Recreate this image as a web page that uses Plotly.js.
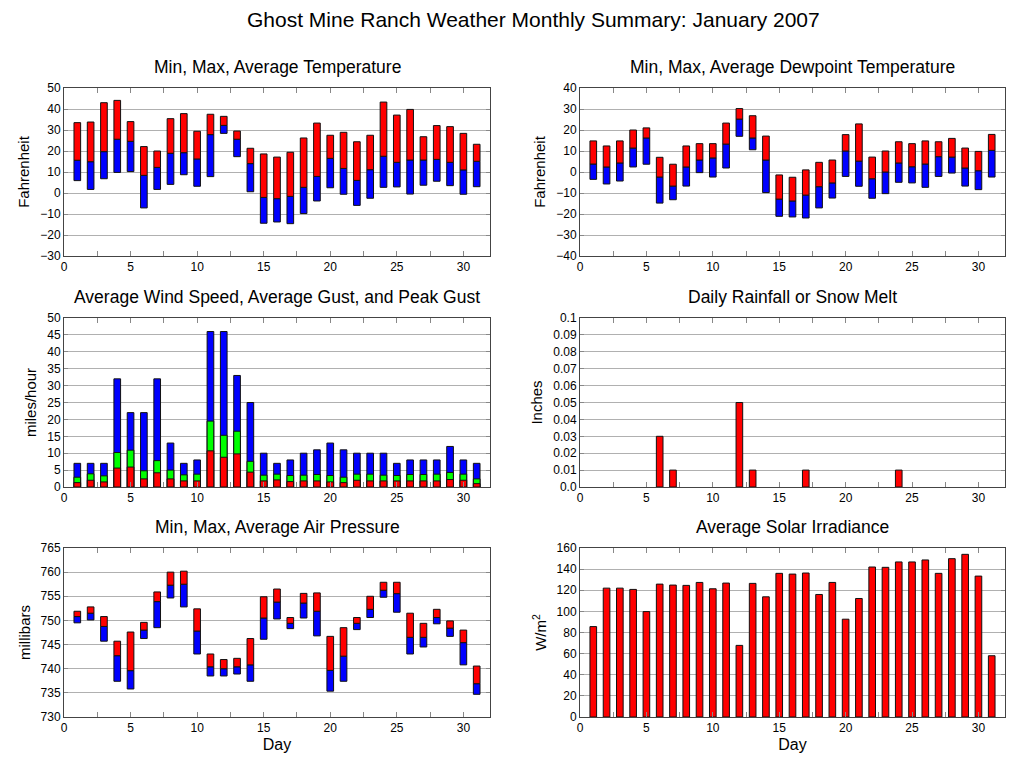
<!DOCTYPE html>
<html>
<head>
<meta charset="utf-8">
<script src="https://cdn.plot.ly/plotly-3.0.1.min.js"></script>
<style>html,body{margin:0;padding:0;background:#fff;}#chart{width:1027px;height:772px;}</style>
</head>
<body>
<div id="chart"></div>
<script>
const days = [1,2,3,4,5,6,7,8,9,10,11,12,13,14,15,16,17,18,19,20,21,22,23,24,25,26,27,28,29,30,31];

const tempMax = [33.5,33.8,43.0,44.1,34.0,22.1,20.0,35.4,37.8,29.4,37.5,36.5,29.5,21.3,18.6,17.1,19.4,26.2,33.3,27.5,28.9,24.4,27.5,43.3,37.1,39.8,26.8,32.1,31.6,28.4,23.2];
const tempAvg = [15.6,14.9,19.7,25.6,24.6,8.4,12.2,18.9,19.2,16.2,27.8,32.2,25.6,14.0,-2.1,-2.7,-1.6,2.7,7.9,16.5,11.7,6.0,11.1,17.5,14.6,15.7,15.7,16.0,14.6,11.0,15.1];
const tempMin = [5.9,1.7,6.8,9.8,10.2,-7.1,1.7,4.1,8.7,3.2,7.8,28.4,17.3,0.6,-14.4,-13.8,-14.6,-9.8,-3.8,2.5,-0.6,-5.9,-2.5,2.7,2.9,-0.5,3.7,5.6,3.5,-0.6,3.0];

const dewMax = [14.8,12.4,14.8,20.0,21.0,7.0,3.7,12.4,13.5,13.5,23.3,30.2,26.8,17.1,-1.4,-2.5,1.0,4.6,5.7,17.8,22.9,7.1,10.0,14.4,13.5,14.8,14.4,16.0,11.4,9.8,17.9];
const dewAvg = [3.8,2.4,4.3,11.4,16.2,-2.4,-6.7,2.4,5.7,6.7,13.3,25.2,16.2,5.7,-12.9,-13.8,-11.0,-7.0,-5.2,10.0,5.2,-3.2,0.0,4.3,2.5,3.8,7.3,7.1,1.9,0.6,10.3];
const dewMin = [-3.5,-5.7,-4.3,2.4,3.7,-14.8,-13.2,-6.7,-0.3,-2.4,1.9,17.0,10.6,-9.8,-21.1,-21.4,-21.9,-17.1,-12.4,-2.1,-6.8,-12.5,-10.3,-4.9,-5.2,-7.3,-2.1,-0.5,-6.7,-8.4,-2.4];

const windAvg = [1.3,2.0,1.5,5.6,5.9,2.4,4.2,2.4,1.8,1.8,10.7,8.8,9.8,4.4,1.8,2.1,1.6,1.8,1.8,1.5,1.3,2.0,1.8,1.8,1.8,1.8,1.8,1.8,2.2,2.0,1.0];
const gustAvg = [2.9,3.9,3.3,10.2,10.9,4.8,7.8,5.0,3.6,3.8,19.5,15.3,16.5,7.6,3.5,3.8,3.4,3.5,3.7,3.4,2.9,3.8,3.8,3.5,3.4,3.7,3.7,3.8,4.3,3.8,2.4];
const gustPeak = [7,7,7,32,22,22,32,13,7,8,46,46,33,25,10,7,8,10,11,13,11,10,10,10,7,8,8,8,12,8,7];

const rain = [0,0,0,0,0,0.03,0.01,0,0,0,0,0.05,0.01,0,0,0,0.01,0,0,0,0,0,0,0.01,0,0,0,0,0,0,0];

const presMax = [751.9,752.8,750.8,745.7,747.6,749.6,755.9,760.0,760.2,752.4,743.05,741.9,742.15,746.25,754.9,756.5,750.6,755.6,755.7,746.7,748.5,750.6,755.0,757.9,757.9,751.5,749.4,752.3,749.9,748.0,740.55];
const presAvg = [750.8,751.5,748.75,742.7,739.6,748.0,753.9,757.3,757.5,747.8,740.4,740.0,740.4,740.8,750.5,753.8,749.4,753.6,751.9,739.65,742.6,749.4,752.3,756.25,755.55,746.5,746.5,750.6,748.4,745.4,736.9];
const presMin = [749.5,750.1,745.7,737.4,735.8,746.25,748.5,754.65,752.8,743.05,738.5,738.5,738.9,737.4,746.1,750.3,748.3,750.5,746.8,735.35,737.4,748.1,750.6,754.8,751.7,743.05,744.5,749.3,746.7,740.8,734.7];

const solar = [85.6,122.0,122.0,120.8,99.8,125.8,124.9,124.6,127.4,121.4,126.8,67.8,126.5,113.8,136.0,135.3,136.3,116.0,127.4,92.6,112.2,142.0,141.7,146.8,146.8,148.7,136.0,149.9,154.0,133.4,58.0];

const rainTickVals = [0,0.01,0.02,0.03,0.04,0.05,0.06,0.07,0.08,0.09,0.1];
const rainTickText = ['0.0','0.01','0.02','0.03','0.04','0.05','0.06','0.07','0.08','0.09','0.1'];

const RED = '#ff0000', BLUE = '#0000ff', GREEN = '#00ff00';
const BW = 0.5;
const outline = {color:'#111', width:1};

function diff(a,b){return a.map((v,i)=>v-b[i]);}
function rangeBars(maxA, avgA, minA, xa, ya){
  return [
    {type:'bar', x:days, y:diff(avgA,minA), base:minA, width:BW, marker:{color:BLUE, line:outline}, xaxis:xa, yaxis:ya, hoverinfo:'skip'},
    {type:'bar', x:days, y:diff(maxA,avgA), base:avgA, width:BW, marker:{color:RED, line:outline}, xaxis:xa, yaxis:ya, hoverinfo:'skip'}
  ];
}

const data = [].concat(
  rangeBars(tempMax,tempAvg,tempMin,'x','y'),
  rangeBars(dewMax,dewAvg,dewMin,'x2','y2'),
  [
    {type:'bar', x:days, y:gustPeak, width:BW, marker:{color:BLUE, line:outline}, xaxis:'x3', yaxis:'y3'},
    {type:'bar', x:days, y:gustAvg, width:BW, marker:{color:GREEN, line:outline}, xaxis:'x3', yaxis:'y3'},
    {type:'bar', x:days, y:windAvg, width:BW, marker:{color:RED, line:outline}, xaxis:'x3', yaxis:'y3'},
    {type:'bar', x:days, y:rain.map(v => v > 0 ? v : null), width:BW, marker:{color:RED, line:outline}, xaxis:'x4', yaxis:'y4'}
  ],
  rangeBars(presMax,presAvg,presMin,'x5','y5'),
  [{type:'bar', x:days, y:solar, width:BW, marker:{color:RED, line:outline}, xaxis:'x6', yaxis:'y6'}]
);

const FONT = 'Liberation Sans, Arial, sans-serif';
const L = [64/1027, 490/1027], R = [580/1027, 1005/1027];
const Y1 = [(772-256)/772, (772-88)/772], Y2 = [(772-487)/772, (772-318)/772], Y3 = [(772-717)/772, (772-548)/772];

function xax(dom, anchor, title){
  const o = {domain:dom, anchor:anchor, range:[0,32], tick0:0, dtick:5,
    ticks:'inside', ticklen:5, tickcolor:'#888', showline:true, linecolor:'#444', linewidth:1, mirror:'ticks',
    minor:{dtick:2.5, tick0:0, ticks:'inside', ticklen:5, tickcolor:'#888', showgrid:false},
    showgrid:false, zeroline:false, tickfont:{size:12, color:'#000'}};
  if(title) o.title = {text:title, font:{size:16}, standoff:4};
  return o;
}
function yax(dom, anchor, range, dtick, title, extra){
  const o = Object.assign({domain:dom, anchor:anchor, range:range, dtick:dtick, tick0:range[0],
    ticks:'inside', ticklen:4, tickcolor:'#888', showline:true, linecolor:'#444', linewidth:1, mirror:'ticks',
    showgrid:true, gridcolor:'#b0b0b0', gridwidth:1, zeroline:false, tickfont:{size:12, color:'#000'},
    title:{text:title, font:{size:15}, standoff:6}}, extra||{});
  return o;
}

function ann(text, x, ypx, size){
  return {text:text, x:x, y:1-ypx/772, xref:'paper', yref:'paper', showarrow:false, font:{size:size}, xanchor:'center', yanchor:'middle'};
}

const layout = {
  width:1027, height:772, margin:{l:0,r:0,t:0,b:0}, paper_bgcolor:'#fff', plot_bgcolor:'#fff',
  showlegend:false, barmode:'overlay', font:{family:FONT, color:'#000'},
  xaxis: xax(L,'y'), yaxis: yax(Y1,'x',[-30,50],10,'Fahrenheit'),
  xaxis2: xax(R,'y2'), yaxis2: yax(Y1,'x2',[-40,40],10,'Fahrenheit'),
  xaxis3: xax(L,'y3'), yaxis3: yax(Y2,'x3',[0,50],5,'miles/hour'),
  xaxis4: xax(R,'y4'), yaxis4: yax(Y2,'x4',[0,0.1],0.01,'Inches',{tickmode:'array', tickvals:rainTickVals, ticktext:rainTickText}),
  xaxis5: xax(L,'y5','Day'), yaxis5: yax(Y3,'x5',[730,765],5,'millibars'),
  xaxis6: xax(R,'y6','Day'), yaxis6: yax(Y3,'x6',[0,160],20,'W/m<sup>2</sup>'),
  annotations: [
    ann('Ghost Mine Ranch Weather Monthly Summary: January 2007', 533/1027, 20, 21),
    ann('Min, Max, Average Temperature', (L[0]+L[1])/2, 67, 17.5),
    ann('Min, Max, Average Dewpoint Temperature', (R[0]+R[1])/2, 67, 17.5),
    ann('Average Wind Speed, Average Gust, and Peak Gust', (L[0]+L[1])/2, 297, 17.5),
    ann('Daily Rainfall or Snow Melt', (R[0]+R[1])/2, 297, 17.5),
    ann('Min, Max, Average Air Pressure', (L[0]+L[1])/2, 527, 17.5),
    ann('Average Solar Irradiance', (R[0]+R[1])/2, 527, 17.5)
  ]
};

Plotly.newPlot('chart', data, layout, {displayModeBar:false, staticPlot:true});
</script>
</body>
</html>
